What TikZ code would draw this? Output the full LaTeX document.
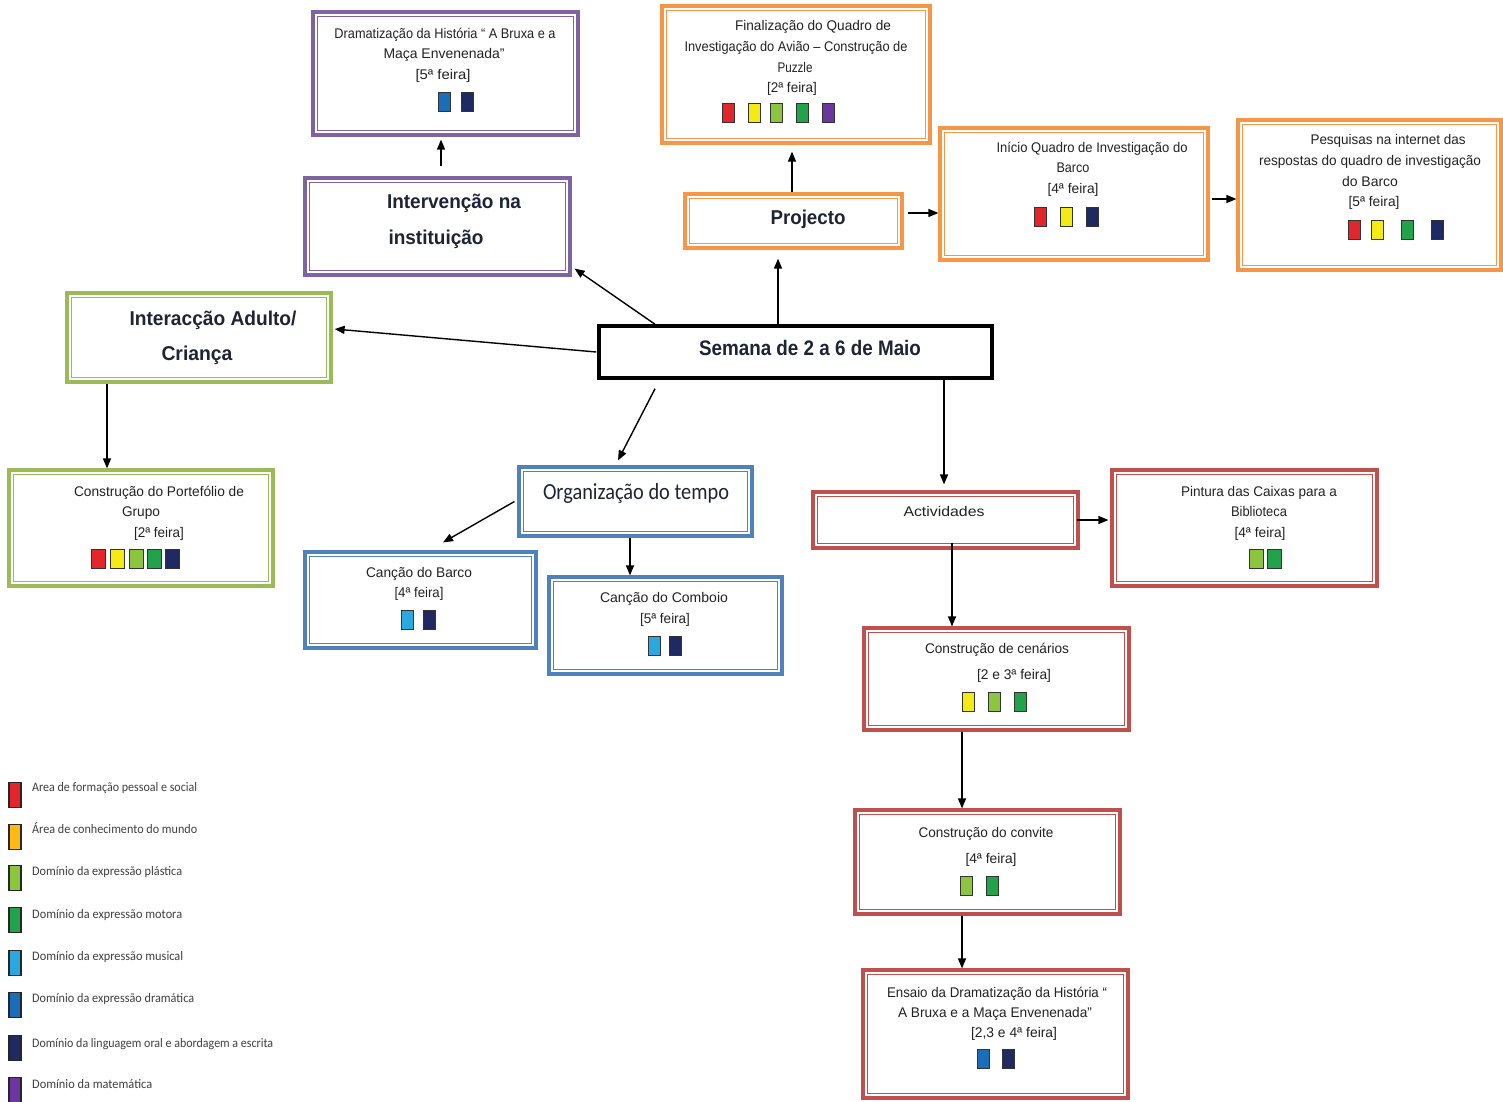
\documentclass[tikz,border=0pt]{standalone}
\usepackage{fontspec}
\usepackage{graphicx}
\setmainfont{Liberation Sans}
\newfontfamily\calfont{Carlito}
\usetikzlibrary{arrows.meta}
\definecolor{cRed}{HTML}{E3262B}
\definecolor{cYel}{HTML}{F5EB14}
\definecolor{cOrY}{HTML}{FDBA12}
\definecolor{cLgr}{HTML}{8CC63F}
\definecolor{cGrn}{HTML}{22A24A}
\definecolor{cSky}{HTML}{2AA8E0}
\definecolor{cBlu}{HTML}{1C6DB8}
\definecolor{cNav}{HTML}{1F2A63}
\definecolor{cPur}{HTML}{6B36A0}
\definecolor{bPur}{HTML}{8064A2}
\definecolor{bOra}{HTML}{F79646}
\definecolor{bGrn}{HTML}{9BBB59}
\definecolor{bBlu}{HTML}{4F81BD}
\definecolor{bRed}{HTML}{C0504D}
\definecolor{hdText}{HTML}{1E2336}
\definecolor{smText}{HTML}{222222}
\definecolor{lgText}{HTML}{404040}
\newcommand{\fw}[2]{\resizebox{#1pt}{\height}{#2}}
\tikzset{
  box/.style={draw=#1, line width=3.2pt, fill=white, inner sep=0pt},
  sq/.style={draw=black!80, line width=0.9pt, fill=#1, minimum width=12pt, minimum height=19pt, inner sep=0pt},
  lsq/.style={draw=black!85, line width=1.2pt, fill=#1, minimum width=12pt, minimum height=25pt, inner sep=0pt},
  sm/.style={font=\fontsize{14}{14}\selectfont, text=smText, inner sep=0pt, text height=10pt, text depth=3pt},
  hd/.style={font=\fontsize{20}{20}\selectfont\bfseries, text=hdText, inner sep=0pt, text height=14.5pt, text depth=4pt},
  lg/.style={font=\calfont\fontsize{13}{13}\selectfont, text=lgText, inner sep=0pt, anchor=west, text height=9pt, text depth=3pt},
  arr/.style={-{Triangle[length=10pt,width=8pt]}, line width=1.4pt, black},
}
\newcommand\bx[6]{%
  \node[box=#2, minimum width={#5-#3}, minimum height={#6-#4}] (#1) at ({(#3+#5)/2},{(#4+#6)/2}) {};
  \draw[#2, line width=1.6pt] ([xshift=6pt,yshift=-6pt]#1.north west) rectangle ([xshift=-6pt,yshift=6pt]#1.south east);}
\begin{document}
\begin{tikzpicture}[x=1pt,y=-1pt]
\fill[white] (0,0) rectangle (1503,1101);
\useasboundingbox (0,0) rectangle (1503,1101);

% boxes
\bx{drama}{bPur}{313}{12}{578}{135}
\bx{interv}{bPur}{305}{178}{570}{275}
\bx{fin}{bOra}{662}{6}{930}{143}
\bx{proj}{bOra}{685}{194}{902}{248}
\bx{inicio}{bOra}{940}{128}{1208}{260}
\bx{pesq}{bOra}{1238}{120}{1501}{270}
\bx{inter}{bGrn}{67}{293}{331}{382}
\bx{port}{bGrn}{9}{470}{273}{586}
\node[draw=black, line width=3.5pt, fill=white, minimum width=393pt, minimum height=52pt, inner sep=0pt] (sem) at (795.5,352) {};
\bx{org}{bBlu}{519}{467}{752}{536}
\bx{barco}{bBlu}{305}{552}{536}{648}
\bx{comb}{bBlu}{549}{577}{782}{674}
\bx{activ}{bRed}{813}{492}{1078}{548}
\bx{pint}{bRed}{1112}{470}{1377}{586}
\bx{cen}{bRed}{864}{628}{1129}{730}
\bx{conv}{bRed}{855}{810}{1120}{914}
\bx{ens}{bRed}{863}{970}{1128}{1098}

% texts
\node[sm] (tdr1) at (445,35) {\fw{221}{Dramatização da História “ A Bruxa e a}};
\node[sm] (tdr2) at (444,55) {\fw{121}{Maça Envenenada”}};
\node[sm] (tdr3) at (443,76) {\fw{55}{[5ª feira]}};
\node[hd] (tiv1) at (454,203) {\fw{134}{Intervenção na}};
\node[hd] (tiv2) at (436,239) {\fw{95}{instituição}};
\node[sm] (tfi1) at (813,27) {\fw{156}{Finalização do Quadro de}};
\node[sm] (tfi2) at (796,48) {\fw{223}{Investigação do Avião – Construção de}};
\node[sm] (tfi3) at (795,69) {\fw{35}{Puzzle}};
\node[sm] (tfi4) at (792,89) {\fw{50}{[2ª feira]}};
\node[hd] (tpr) at (808,219) {\fw{75}{Projecto}};
\node[sm] (tin1) at (1092,149) {\fw{191}{Início Quadro de Investigação do}};
\node[sm] (tin2) at (1073,169) {\fw{33}{Barco}};
\node[sm] (tin3) at (1073,190) {\fw{51}{[4ª feira]}};
\node[sm] (tpe1) at (1388,141) {\fw{155}{Pesquisas na internet das}};
\node[sm] (tpe2) at (1370,162) {\fw{222}{respostas do quadro de investigação}};
\node[sm] (tpe3) at (1370,183) {\fw{56}{do Barco}};
\node[sm] (tpe4) at (1374,203) {\fw{51}{[5ª feira]}};
\node[hd] (tit1) at (213,320) {\fw{167}{Interacção Adulto/}};
\node[hd] (tit2) at (197,355) {\fw{71}{Criança}};
\node[sm] (tpo1) at (159,493) {\fw{170}{Construção do Portefólio de}};
\node[sm] (tpo2) at (141,513) {\fw{38}{Grupo}};
\node[sm] (tpo3) at (159,534) {\fw{50}{[2ª feira]}};
\node[hd, font=\fontsize{21}{21}\selectfont\bfseries] (tse) at (810,350) {\fw{222}{Semana de 2 a 6 de Maio}};
\node[font=\calfont\fontsize{23}{23}\selectfont, text=hdText, inner sep=0pt, text height=16pt, text depth=5pt] (tor) at (636,494) {\fw{186}{Organização do tempo}};
\node[sm] (tba1) at (419,574) {\fw{106}{Canção do Barco}};
\node[sm] (tba2) at (419,594) {\fw{49}{[4ª feira]}};
\node[sm] (tco1) at (664,599) {\fw{128}{Canção do Comboio}};
\node[sm] (tco2) at (665,620) {\fw{50}{[5ª feira]}};
\node[sm] (tac) at (944,513) {\fw{81}{Actividades}};
\node[sm] (tpi1) at (1259,493) {\fw{156}{Pintura das Caixas para a}};
\node[sm] (tpi2) at (1259,513) {\fw{56}{Biblioteca}};
\node[sm] (tpi3) at (1260,534) {\fw{51}{[4ª feira]}};
\node[sm] (tce1) at (997,650) {\fw{144}{Construção de cenários}};
\node[sm] (tce2) at (1014,676) {\fw{74}{[2 e 3ª feira]}};
\node[sm] (tcv1) at (986,834) {\fw{135}{Construção do convite}};
\node[sm] (tcv2) at (991,860) {\fw{51}{[4ª feira]}};
\node[sm] (ten1) at (997,994) {\fw{220}{Ensaio da Dramatização da História “}};
\node[sm] (ten2) at (995,1014) {\fw{194}{A Bruxa e a Maça Envenenada”}};
\node[sm] (ten3) at (1014,1034) {\fw{86}{[2,3 e 4ª feira]}};

% squares
\foreach \x/\c [count=\i] in {444/cBlu,467/cNav} \node[sq=\c] (sdr\i) at (\x,102) {};
\foreach \x/\c [count=\i] in {728/cRed,754/cYel,776/cLgr,802/cGrn,828/cPur} \node[sq=\c] (sfi\i) at (\x,113) {};
\foreach \x/\c [count=\i] in {1040/cRed,1066/cYel,1092/cNav} \node[sq=\c] (sin\i) at (\x,217) {};
\foreach \x/\c [count=\i] in {1354/cRed,1377/cYel,1407/cGrn,1437/cNav} \node[sq=\c] (spe\i) at (\x,230) {};
\foreach \x/\c [count=\i] in {98/cRed,117/cYel,136/cLgr,154/cGrn,172/cNav} \node[sq=\c, minimum width=14pt] (spo\i) at (\x,559) {};
\foreach \x/\c [count=\i] in {407/cSky,429/cNav} \node[sq=\c] (sba\i) at (\x,620) {};
\foreach \x/\c [count=\i] in {654/cSky,675/cNav} \node[sq=\c] (sco\i) at (\x,646) {};
\foreach \x/\c [count=\i] in {1256/cLgr,1274/cGrn} \node[sq=\c, minimum width=14pt] (spi\i) at (\x,559) {};
\foreach \x/\c [count=\i] in {968/cYel,994/cLgr,1020/cGrn} \node[sq=\c] (sce\i) at (\x,702) {};
\foreach \x/\c [count=\i] in {966/cLgr,992/cGrn} \node[sq=\c] (scv\i) at (\x,886) {};
\foreach \x/\c [count=\i] in {983/cBlu,1008/cNav} \node[sq=\c] (sen\i) at (\x,1059) {};

% legend
\foreach \c/\ys/\yt/\w/\t [count=\i] in {
  cRed/795/788/165/{Area de formação pessoal e social},
  cOrY/837/830/165/{Área de conhecimento do mundo},
  cLgr/878/872/150/{Domínio da expressão plástica},
  cGrn/920/915/150/{Domínio da expressão motora},
  cSky/963/957/151/{Domínio da expressão musical},
  cBlu/1005/999/162/{Domínio da expressão dramática},
  cNav/1048/1044/241/{Domínio da linguagem oral e abordagem a escrita},
  cPur/1090/1085/120/{Domínio da matemática}} {
  \node[lsq=\c] (lsq\i) at (15,\ys) {};
  \node[lg] (ltx\i) at (32,\yt) {\fw{\w}{\t}};
}

% connectors
\draw[arr] ([xshift=3.5pt,yshift=10pt]interv.north) -- ([xshift=-4.5pt,yshift=-3pt]drama.south);
\draw[arr] ([xshift=-140.5pt]sem.north) -- ([xshift=3pt,yshift=8pt]interv.south east);
\draw[arr] ([xshift=-17.5pt]sem.north) -- ([xshift=-15.5pt,yshift=-9pt]proj.south);
\draw[arr] ([xshift=-1.5pt]proj.north) -- ([xshift=-4pt,yshift=-7pt]fin.south);
\draw[arr] ([xshift=4pt,yshift=8pt]proj.east) -- ([yshift=-19pt]inicio.west);
\draw[arr] ([xshift=2pt,yshift=-5pt]inicio.east) -- ([yshift=-4pt]pesq.west);
\draw[arr] ([xshift=-1pt]sem.west) -- ([xshift=2pt,yshift=8.5pt]inter.east);
\draw[arr] ([xshift=-92pt]inter.south) -- ([xshift=-34pt]port.north);
\draw[arr] ([xshift=-140.5pt,yshift=-9pt]sem.south) -- ([xshift=-17.5pt,yshift=5pt]org.north);
\draw[arr] ([xshift=-3pt]org.west) -- ([xshift=22.5pt,yshift=8pt]barco.north);
\draw[arr] ([xshift=-5.5pt]org.south) -- ([xshift=-35.5pt]comb.north);
\draw[arr] ([xshift=148.5pt]sem.south) -- ([xshift=-1.5pt,yshift=6pt]activ.north);
\draw[arr] ([xshift=-3pt]activ.east) -- ([xshift=-2pt,yshift=8pt]pint.west);
\draw[arr] ([xshift=6.5pt,yshift=7pt]activ.south) -- ([xshift=-44.5pt]cen.north);
\draw[arr] ([xshift=-34.5pt]cen.south) -- ([xshift=-25.5pt]conv.north);
\draw[arr] ([xshift=-25.5pt]conv.south) -- ([xshift=-33.5pt]ens.north);
\end{tikzpicture}
\end{document}
